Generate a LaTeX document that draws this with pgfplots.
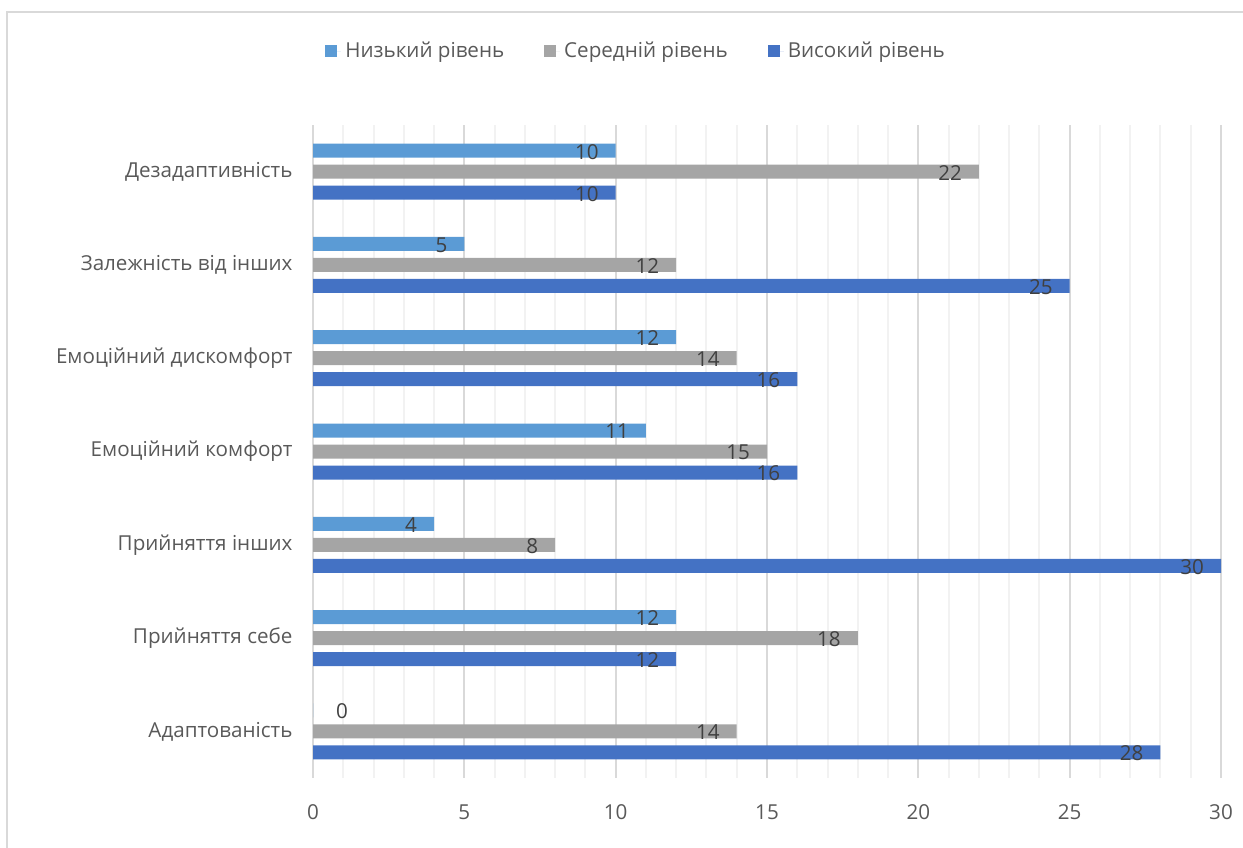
\documentclass[border=0pt]{standalone}
\usepackage{pgfplots}
\pgfplotsset{compat=1.18}
\usepackage{fontspec}
\setmainfont{Open Sans}
\definecolor{cLow}{HTML}{5B9BD5}
\definecolor{cMid}{HTML}{A5A5A5}
\definecolor{cHigh}{HTML}{4472C4}
\definecolor{gridmaj}{HTML}{D9D9D9}
\definecolor{gridmin}{HTML}{F2F2F2}
\definecolor{txt}{HTML}{595959}
\definecolor{lbl}{HTML}{404040}
\newcommand{\cf}{\fontsize{10.3bp}{12.4bp}\selectfont}
\begin{document}
\begin{tikzpicture}
\path[use as bounding box] (0bp,0bp) rectangle (621.5bp,424bp);
\draw[gridmaj, line width=0.75bp] (3.5bp,0bp) -- (3.5bp,418bp) -- (621.5bp,418bp);
\begin{axis}[
  at={(156.5bp,35bp)}, anchor=south west,
  scale only axis, width=454bp, height=326.5bp,
  xbar, bar width=7bp,
  xmin=0, xmax=30, ymin=-0.5, ymax=6.5,
  axis line style={draw=none},
  tick style={draw=none},
  xtick={0,5,...,30},
  minor x tick num=4,
  xmajorgrids, xminorgrids,
  major x grid style={gridmaj, line width=1bp},
  minor x grid style={gridmin, line width=1bp},
  ytick={0,...,6},
  yticklabels={Адаптованість, Прийняття себе, Прийняття інших, Емоційний комфорт, Емоційний дискомфорт, Залежність від інших, Дезадаптивність},
  /pgf/number format/assume math mode=true,
  ticklabel style={font=\cf, text=txt},
  xticklabel shift=10bp,
  yticklabel shift=2.5bp,
  point meta=x,
  nodes near coords,
  every node near coord/.append style={anchor=east, xshift=-5bp, yshift=-0.5bp, font=\cf, text=lbl},
  legend columns=3,
  legend style={at={(0.357,1.113)}, anchor=center, draw=none, fill=none, font=\cf, text=txt,
    /tikz/every even column/.append style={column sep=18bp}},
  legend image code/.code={\path (0bp,0bp) rectangle (8bp,0bp);\fill[#1] (0bp,-3bp) rectangle (6bp,3bp);},
]
\addplot[fill=cLow, draw=none, bar shift=10.5bp] coordinates {(12,1) (4,2) (11,3) (12,4) (5,5) (10,6)};
\addlegendentry{Низький рівень}
\addplot[fill=cMid, draw=none, bar shift=0bp] coordinates {(14,0) (18,1) (8,2) (15,3) (14,4) (12,5) (22,6)};
\addlegendentry{Середній рівень}
\addplot[fill=cHigh, draw=none, bar shift=-10.5bp] coordinates {(28,0) (12,1) (30,2) (16,3) (16,4) (25,5) (10,6)};
\addlegendentry{Високий рівень}
\addplot[fill=cLow, draw=none, bar shift=10.5bp, forget plot,
  every node near coord/.append style={anchor=west, xshift=13bp}] coordinates {(0,0)};
\pgfplotsinvokeforeach{-0.5,0.5,1.5,2.5,3.5,4.5,5.5,6.5}{
  \draw[gridmaj, line width=0.75bp] (axis cs:0,#1) -- ++(-4bp,0bp);
}
\end{axis}
\end{tikzpicture}
\end{document}
